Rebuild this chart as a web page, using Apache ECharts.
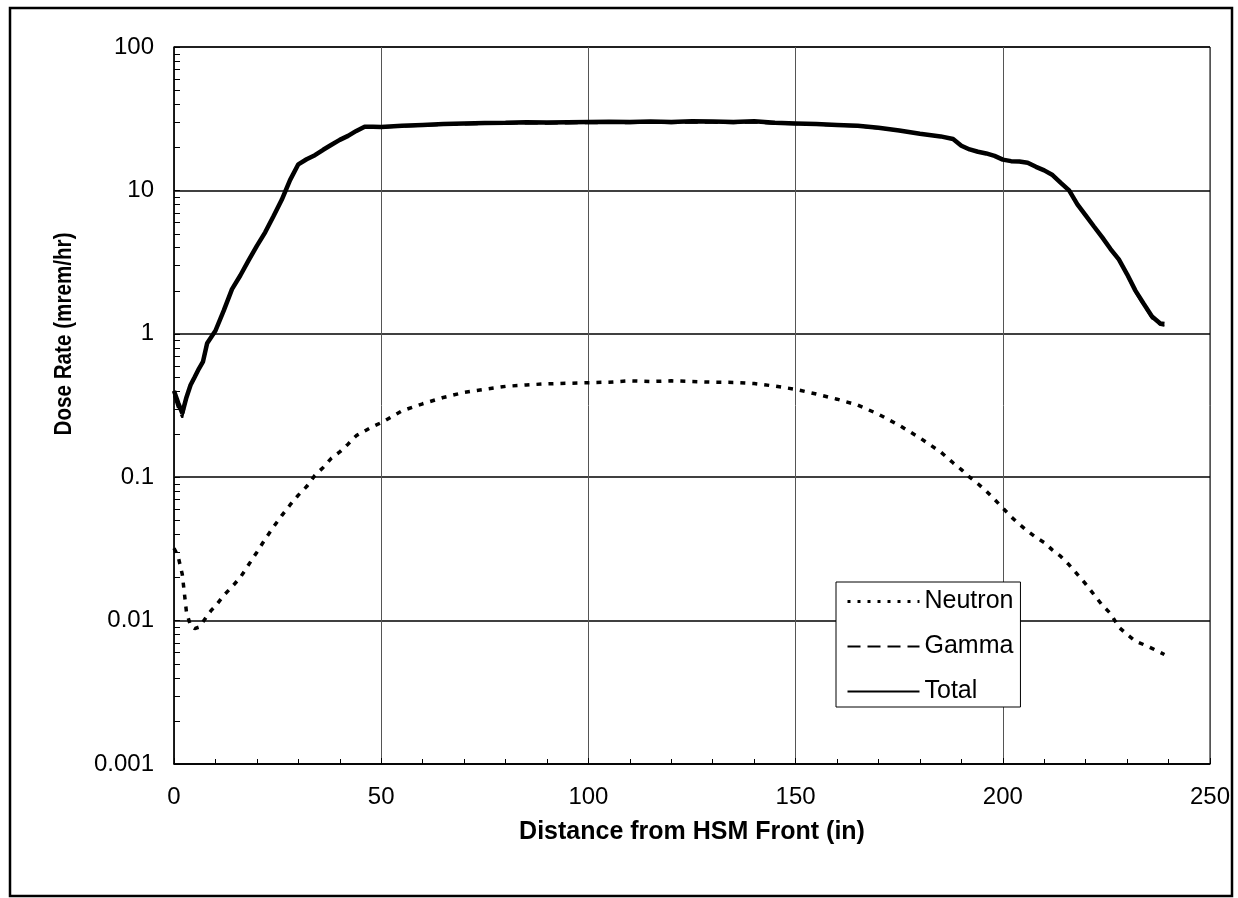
<!DOCTYPE html>
<html>
<head>
<meta charset="utf-8">
<title>Dose Rate vs Distance from HSM Front</title>
<script src="https://cdn.jsdelivr.net/npm/echarts@6/dist/echarts.min.js"></script>
<style>
  html, body { margin: 0; padding: 0; background: #fff; }
  #chart { width: 1238px; height: 898px; }
</style>
</head>
<body>
<div id="chart"></div>
<script>
// Distance from the HSM front (in)
const distance = [0,1,2,3,4,5,6,7,8,9,10,12,14,16,18,20,22,24,26,28,30,32,34,36,38,40,42,44,46,48,50,
  55,60,65,70,75,80,85,90,95,100,105,110,115,120,125,130,135,140,145,150,155,160,165,170,175,180,185,
  188,190,192,194,196,198,200,202,204,206,208,210,212,214,216,218,220,222,224,226,228,230,232,234,236,238,239];

// Neutron dose rate (mrem/hr)
const neutron = [0.032,0.028,0.021,0.0115,0.0092,0.0088,0.0090,0.0098,0.0108,0.0118,0.0126,0.0150,0.0172,
  0.0200,0.0245,0.030,0.037,0.045,0.054,0.064,0.075,0.086,0.103,0.117,0.136,0.150,0.170,0.195,0.210,0.226,0.240,
  0.290,0.325,0.360,0.390,0.410,0.430,0.440,0.448,0.452,0.456,0.460,0.470,0.465,0.470,0.465,0.460,0.458,0.450,
  0.432,0.410,0.380,0.350,0.318,0.275,0.230,0.188,0.150,
  0.126,0.113,0.100,0.090,0.080,0.070,0.061,0.053,0.047,0.042,0.038,0.035,0.031,0.028,0.0245,0.021,0.018,
  0.0152,0.0128,0.0112,0.0090,0.0080,0.0072,0.0068,0.0064,0.0060,0.0058];

// Gamma dose rate (mrem/hr)
const gamma = [0.37,0.30,0.26,0.35,0.43,0.49,0.56,0.63,0.85,0.94,1.04,1.43,2.03,2.53,3.22,4.07,5.06,6.55,8.55,
  11.7,15.1,16.4,17.5,19.1,20.7,22.3,23.8,25.8,27.6,27.6,27.4,
  27.9,28.2,28.6,28.8,29.0,29.1,29.3,29.2,29.3,29.4,29.5,29.4,29.6,29.4,29.7,29.6,29.4,29.8,
  29.1,28.9,28.6,28.3,27.9,27.0,26.0,24.6,23.6,
  22.6,20.4,19.2,18.5,18.0,17.3,16.3,15.9,15.8,15.5,14.5,13.7,12.7,11.2,9.95,7.95,6.65,
  5.55,4.65,3.85,3.25,2.55,1.95,1.58,1.28,1.15,1.14];

// Total dose rate (mrem/hr)
const total = [0.40,0.33,0.28,0.36,0.44,0.50,0.57,0.64,0.86,0.95,1.05,1.45,2.05,2.55,3.25,4.1,5.1,6.6,8.6,
  11.8,15.2,16.5,17.6,19.2,20.8,22.5,24.0,26.0,27.8,27.8,27.7,
  28.2,28.6,29.0,29.3,29.5,29.6,29.9,29.8,29.9,30.0,30.1,30.0,30.2,30.0,30.3,30.2,30.0,30.4,
  29.6,29.3,29.0,28.6,28.2,27.3,26.2,24.8,23.8,
  22.8,20.5,19.3,18.6,18.1,17.4,16.4,16.0,15.9,15.6,14.6,13.8,12.8,11.3,10.0,8.0,6.7,
  5.6,4.7,3.9,3.3,2.6,2.0,1.62,1.32,1.18,1.17];

// Axis tick labels
const xTickLabels = ['0', '50', '100', '150', '200', '250'];
const yTickLabels = ['0.001', '0.01', '0.1', '1', '10', '100'];

// Logarithmic minor tick positions (2..9 within each decade)
const yMinorTicks = [];
[0.001, 0.01, 0.1, 1, 10].forEach(function (d) {
  for (let k = 2; k <= 9; k++) yMinorTicks.push(+(d * k).toPrecision(3));
});

const FONT = "'Liberation Sans', Arial, 'DejaVu Sans', sans-serif";

function pairs(ys) {
  return distance.map(function (x, i) { return [x, ys[i]]; });
}

// legend entries show the line sample only, no marker
const hiddenMarker = { color: 'rgba(0,0,0,0)', borderWidth: 0, opacity: 0 };

const chart = echarts.init(document.getElementById('chart'), null, { renderer: 'canvas' });

chart.setOption({
  animation: false,
  backgroundColor: '#fff',
  grid: {
    left: 174, top: 47, right: 28, bottom: 134,
    show: true, borderColor: '#000', borderWidth: 1, backgroundColor: 'transparent'
  },
  graphic: [
    {
      type: 'rect', z: 100, silent: true,
      shape: { x: 10, y: 8, width: 1222, height: 888 },
      style: { fill: 'none', stroke: '#000', lineWidth: 2.5 }
    },
    {
      type: 'text', z: 100, silent: true,
      x: 64, y: 334, rotation: Math.PI / 2, scaleX: 0.86,
      style: {
        text: 'Dose Rate (mrem/hr)', fill: '#000',
        font: 'bold 24px ' + FONT, align: 'center', verticalAlign: 'middle'
      }
    }
  ],
  legend: {
    orient: 'vertical', left: 836, top: 582,
    padding: [7, 7, 3, 10],
    itemWidth: 72, itemHeight: 24, itemGap: 20,
    backgroundColor: '#fff', borderColor: '#000', borderWidth: 1, borderRadius: 0,
    textStyle: { fontFamily: FONT, fontSize: 25, color: '#000', lineHeight: 24 },
    data: [
      { name: 'Neutron', itemStyle: hiddenMarker, lineStyle: { width: 3, type: [3, 7] } },
      { name: 'Gamma', itemStyle: hiddenMarker, lineStyle: { width: 2, type: [13, 7] } },
      { name: 'Total', itemStyle: hiddenMarker, lineStyle: { width: 2 } }
    ]
  },
  xAxis: {
    type: 'value', min: 0, max: 250, interval: 50,
    name: 'Distance from HSM Front (in)', nameLocation: 'middle', nameGap: 56,
    nameTextStyle: { fontFamily: FONT, fontSize: 25, fontWeight: 'bold', color: '#000' },
    axisLine: { show: true, lineStyle: { color: '#000', width: 1.5 } },
    axisTick: { show: true, inside: true, length: 6, lineStyle: { color: '#000' } },
    minorTick: { show: true, splitNumber: 5, length: 5, lineStyle: { color: '#000' } },
    axisLabel: {
      margin: 21, fontFamily: FONT, fontSize: 24, color: '#000',
      formatter: function (v) { return xTickLabels[Math.round(v / 50)]; }
    },
    splitLine: { show: true, lineStyle: { color: '#555', width: 1 } }
  },
  yAxis: {
    type: 'log', logBase: 10, min: 0.001, max: 100, interval: 1,
    axisLine: { show: true, lineStyle: { color: '#000', width: 1.5 } },
    axisTick: { show: true, inside: true, length: 6, lineStyle: { color: '#000' } },
    axisLabel: {
      margin: 20, fontFamily: FONT, fontSize: 24, color: '#000',
      formatter: function (v) { return yTickLabels[Math.round(Math.log10(v)) + 3]; }
    },
    splitLine: { show: true, lineStyle: { color: '#000', width: 1.5 } }
  },
  series: [
    {
      name: 'Neutron', type: 'line', symbol: 'none', smooth: false, z: 3,
      lineStyle: { color: '#000', width: 3.5, type: [5, 7], cap: 'butt' },
      itemStyle: { color: '#000' },
      data: pairs(neutron)
    },
    {
      name: 'Total', type: 'line', symbol: 'none', smooth: false, z: 4,
      lineStyle: { color: '#000', width: 4.5 },
      itemStyle: { color: '#000' },
      data: pairs(total)
    },
    {
      name: 'Gamma', type: 'line', symbol: 'none', smooth: false, z: 5,
      lineStyle: { color: '#000', width: 2, type: [13, 7] },
      itemStyle: { color: '#000' },
      data: pairs(gamma)
    },
    {
      // log-scale minor ticks along the left axis
      type: 'custom', silent: true, clip: false, z: 6,
      data: yMinorTicks.map(function (v) { return [0, v]; }),
      renderItem: function (params, api) {
        const p = api.coord([0, api.value(1)]);
        return {
          type: 'line',
          shape: { x1: p[0], y1: Math.round(p[1]) + 0.5, x2: p[0] + 6, y2: Math.round(p[1]) + 0.5 },
          style: { stroke: '#000', lineWidth: 1 }
        };
      }
    }
  ]
});
</script>
</body>
</html>
